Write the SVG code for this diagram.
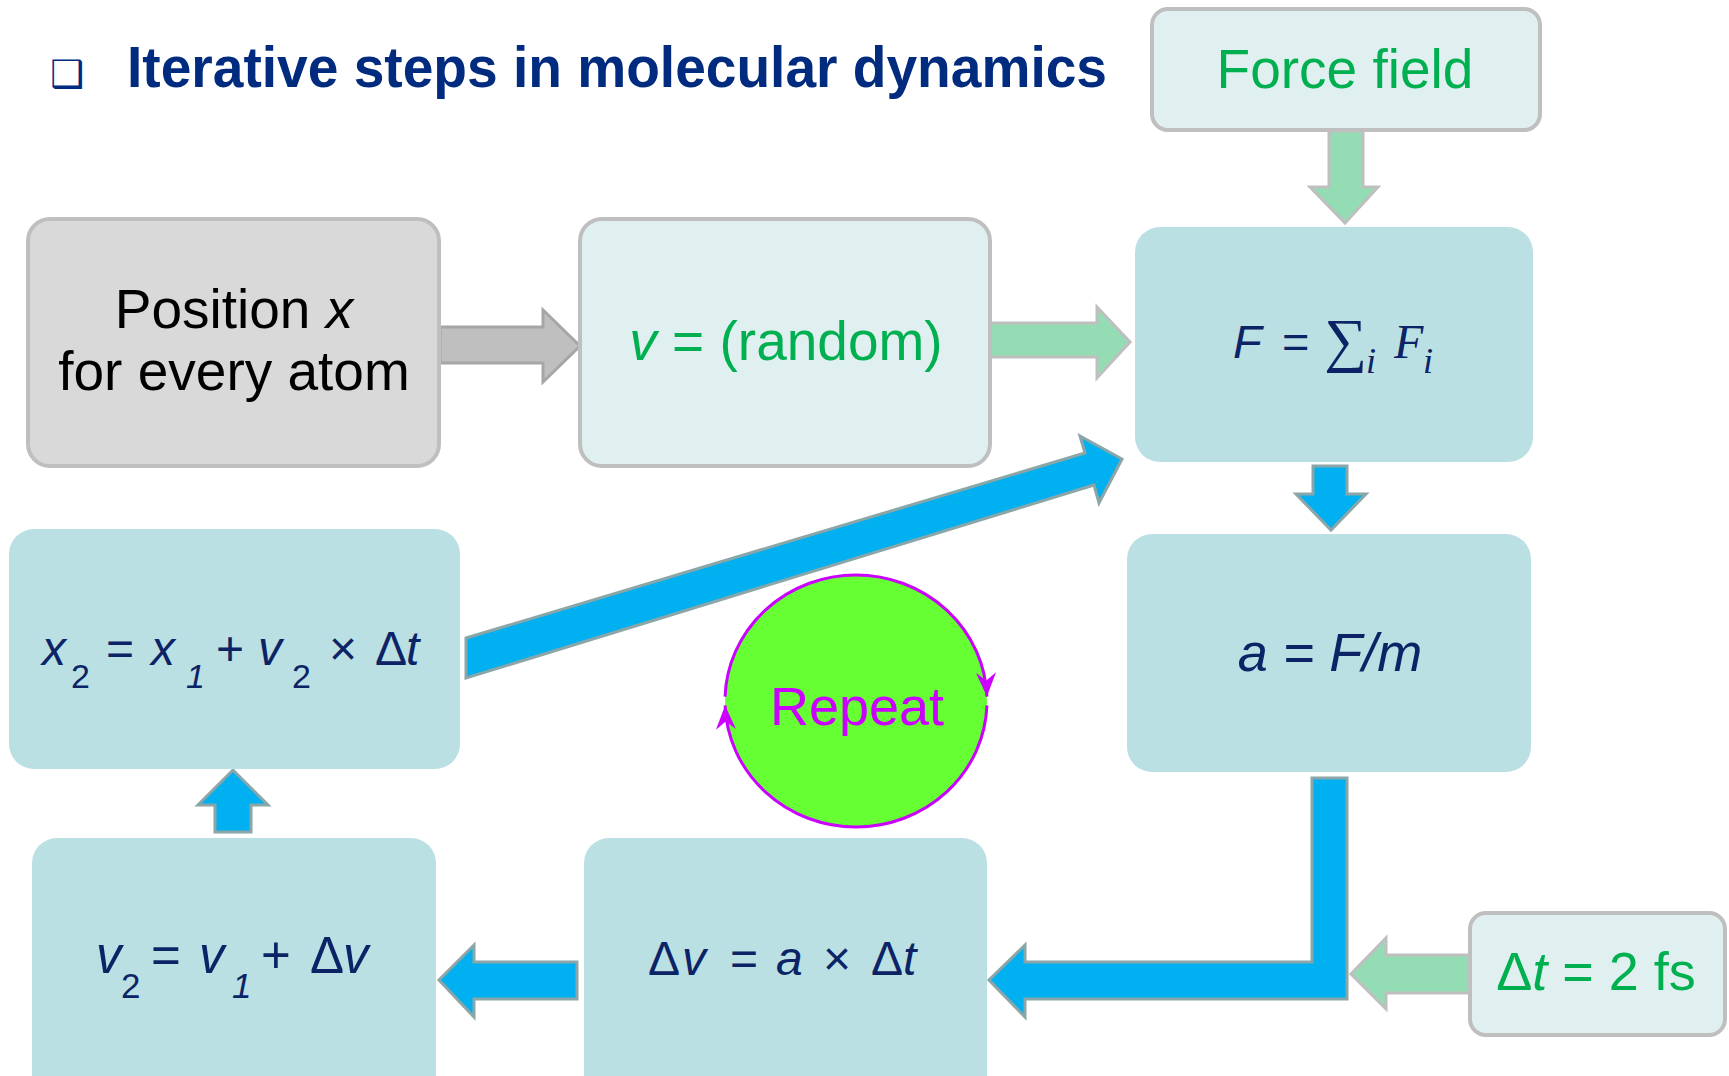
<svg xmlns="http://www.w3.org/2000/svg" width="1729" height="1076" viewBox="0 0 1729 1076">
<defs>
<style>
.sans{font-family:"Liberation Sans",Arial,sans-serif}
.serif{font-family:"Liberation Serif","DejaVu Serif",serif}
.it{font-style:italic}
.eq{fill:#0c2466}
.grn{fill:#00b050}
.box{fill:#bae0e3}
.light{fill:#e0f0f1;stroke:#bfbfbf;stroke-width:4}
.gray{fill:#d9d9d9;stroke:#bfbfbf;stroke-width:4}
.blue{fill:#00b0f0;stroke:#8aa6a8;stroke-width:3;stroke-linejoin:miter}
.garr{fill:#94dcb4;stroke:#bfbfbf;stroke-width:3}
.grarr{fill:#bfbfbf;stroke:#a6a6a6;stroke-width:3}
.rep{fill:none;stroke:#cc00ff;stroke-width:3}
</style>
<marker id="mrep" viewBox="-26 -11 28 22" refX="0" refY="0" markerWidth="28" markerHeight="22" orient="auto" markerUnits="userSpaceOnUse">
<path d="M0,0 L-24,-10 L-16,0 L-24,10 Z" fill="#cc00ff"/>
</marker>
</defs>
<rect width="1729" height="1076" fill="#ffffff"/>

<g id="title">
<text x="50" y="87" font-family="DejaVu Sans,sans-serif" font-size="38" fill="#002b7f">❑</text>
<text x="127" y="87" class="sans" font-weight="bold" font-size="58" fill="#002b7f" textLength="980" lengthAdjust="spacingAndGlyphs">Iterative steps in molecular dynamics</text>
</g>

<g id="connectors">
<polygon class="garr" points="1329,131 1363,131 1363,187 1378,187 1345,223 1310,187 1329,187"/>
<polygon class="grarr" points="440,327 543,327 543,310 580,346 543,382 543,363 440,363"/>
<polygon class="garr" points="990,323 1097,323 1097,307 1130,342 1097,378 1097,357 990,357"/>
<polygon class="blue" points="1313,466 1347,466 1347,494 1366,494 1331,530 1296,494 1313,494"/>
<polygon class="blue" points="1312,778 1347,778 1347,999 1025,999 1025,1017 989,980 1025,945 1025,962 1312,962"/>
<polygon class="blue" points="577,962 577,999 474,999 474,1017 439,980 474,945 474,962"/>
<polygon class="blue" points="215,832 251,832 251,805 268,805 233,770 198,805 215,805"/>
<polygon class="blue" points="466,638 1085,453 1080,436 1122,459 1099,503 1094,485 466,678"/>
<polygon class="garr" points="1470,955 1470,993 1386,993 1386,1009 1351,974 1386,938 1386,955"/>
</g>

<g id="force-field">
<rect class="light" x="1152" y="9" width="388" height="121" rx="16"/>
<text x="1345" y="88" class="sans grn" font-size="55" text-anchor="middle">Force field</text>
</g>

<g id="position">
<rect class="gray" x="28" y="219" width="411" height="247" rx="22"/>
<text x="234" y="328" class="sans" font-size="55" text-anchor="middle" fill="#000">Position <tspan class="it">x</tspan></text>
<text x="234" y="390" class="sans" font-size="55" text-anchor="middle" fill="#000">for every atom</text>
</g>

<g id="velocity-init">
<rect class="light" x="580" y="219" width="410" height="247" rx="22"/>
<text x="786" y="360" class="sans grn" font-size="55" text-anchor="middle"><tspan class="it">v</tspan> = (random)</text>
</g>

<g id="force">
<rect class="box" x="1135" y="227" width="398" height="235" rx="25"/>
<text y="358" class="eq" font-size="47"><tspan x="1233" class="sans it">F</tspan><tspan x="1282" class="sans">=</tspan><tspan x="1324" y="360" class="serif" font-size="60">∑</tspan><tspan x="1366" y="373" class="serif it" font-size="36">i</tspan><tspan x="1394" y="358" class="serif it" font-size="48">F</tspan><tspan x="1423" y="373" class="serif it" font-size="36">i</tspan></text>
</g>

<g id="acceleration">
<rect class="box" x="1127" y="534" width="404" height="238" rx="25"/>
<text x="1330" y="671" class="sans eq it" font-size="54" text-anchor="middle">a = F/m</text>
</g>

<g id="position-update">
<rect class="box" x="9" y="529" width="451" height="240" rx="25"/>
<text y="665" class="sans eq" font-size="48"><tspan x="42" class="it">x</tspan><tspan x="71" y="688" font-size="34">2 </tspan><tspan x="106" y="665">= </tspan><tspan x="151" class="it">x</tspan><tspan x="186" y="688" font-size="34" class="it">1 </tspan><tspan x="216" y="665">+ </tspan><tspan x="258" class="it">v</tspan><tspan x="292" y="688" font-size="34">2 </tspan><tspan x="329" y="665">× </tspan><tspan x="375">Δ</tspan><tspan x="406" class="it">t</tspan></text>
</g>

<g id="repeat">
<ellipse cx="856" cy="701" rx="131" ry="126" fill="#66ff33"/>
<path class="rep" d="M 725.08 696.6 A 131 126 0 0 1 986.92 696.6" marker-end="url(#mrep)"/>
<path class="rep" d="M 986.92 705.4 A 131 126 0 0 1 725.08 705.4" marker-end="url(#mrep)"/>
<text x="857" y="725" class="sans" font-size="54" text-anchor="middle" fill="#cc00ff">Repeat</text>
</g>

<g id="velocity-update">
<rect class="box" x="32" y="838" width="404" height="270" rx="25"/>
<text y="973" class="sans eq" font-size="51"><tspan x="96" class="it">v</tspan><tspan x="121" y="998" font-size="35">2</tspan><tspan x="151" y="973">= </tspan><tspan x="199" class="it">v</tspan><tspan x="232" y="998" font-size="35" class="it">1 </tspan><tspan x="261" y="973">+ </tspan><tspan x="310">Δ</tspan><tspan x="343" class="it">v</tspan></text>
</g>

<g id="delta-v">
<rect class="box" x="584" y="838" width="403" height="270" rx="25"/>
<text y="975" class="sans eq" font-size="48"><tspan x="648">Δ</tspan><tspan x="682" class="it">v </tspan><tspan x="730">= </tspan><tspan x="776" class="it">a </tspan><tspan x="823">× </tspan><tspan x="871">Δ</tspan><tspan x="903" class="it">t</tspan></text>
</g>

<g id="timestep">
<rect class="light" x="1470" y="913" width="255" height="122" rx="16"/>
<text x="1596" y="990" class="sans grn" font-size="54" text-anchor="middle">Δ<tspan class="it">t</tspan> = 2 fs</text>
</g>
</svg>
